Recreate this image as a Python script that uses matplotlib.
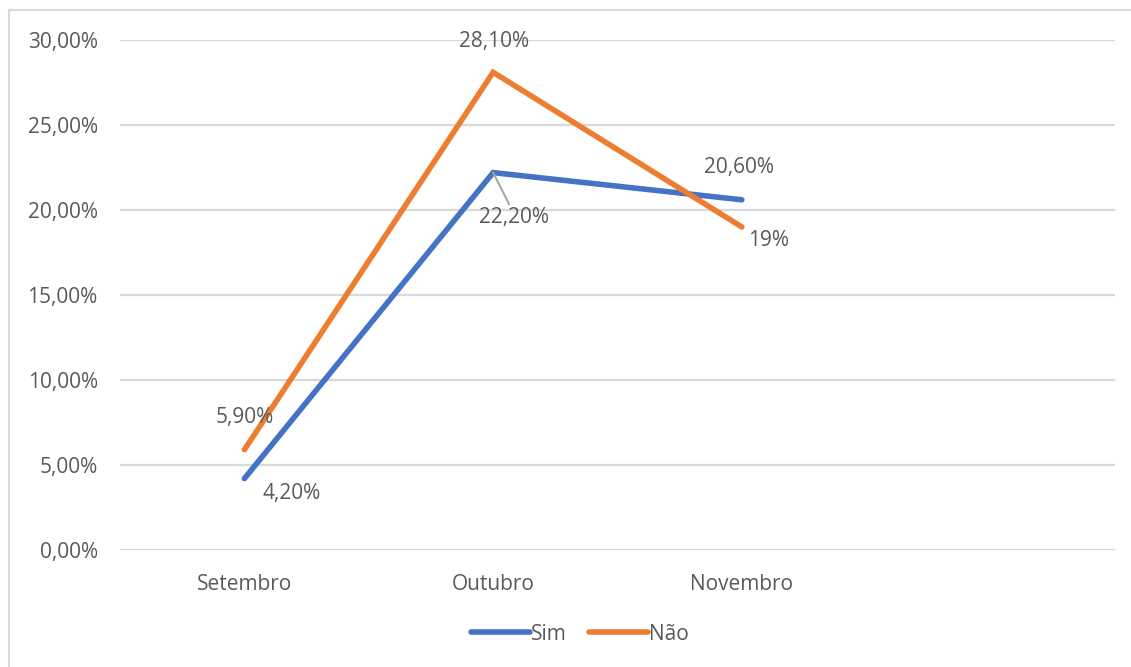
import matplotlib
matplotlib.use("Agg")
import matplotlib.pyplot as plt
from matplotlib.lines import Line2D

categories = ["Setembro", "Outubro", "Novembro", ""]
sim = [4.2, 22.2, 20.6]
nao = [5.9, 28.1, 19.0]
sim_labels = ["4,20%", "22,20%", "20,60%"]
nao_labels = ["5,90%", "28,10%", "19%"]
yticks = [0, 5, 10, 15, 20, 25, 30]
ytick_labels = ["0,00%", "5,00%", "10,00%", "15,00%", "20,00%", "25,00%", "30,00%"]

plt.rcParams['font.family'] = ['Open Sans', 'DejaVu Sans']
TXT = '#595959'
BLUE = '#4472C4'
ORANGE = '#ED7D31'

fig = plt.figure(figsize=(11.31, 6.67), dpi=100)
ax = fig.add_axes([120/1131, 1-550/667, (1115-120)/1131, (550-40)/667])

# figure border (left/top visible)
bx, by = 9/1131, 1-10/667
fig.add_artist(Line2D([bx, bx], [0, by], transform=fig.transFigure, color='#d9d9d9', linewidth=1.5))
fig.add_artist(Line2D([bx, 1], [by, by], transform=fig.transFigure, color='#d9d9d9', linewidth=1.5))

x = list(range(len(sim)))
ax.plot(x, sim, color=BLUE, linewidth=4.0, solid_capstyle='round', solid_joinstyle='miter', label='Sim', zorder=3)
ax.plot(x, nao, color=ORANGE, linewidth=4.0, solid_capstyle='round', solid_joinstyle='miter', label='Não', zorder=3)

fs = 15
ax.set_xlim(-0.5, 3.5)
ax.set_ylim(0, 30)
ax.set_yticks(yticks)
ax.set_yticklabels(ytick_labels)
ax.set_xticks(range(len(categories)))
ax.set_xticklabels(categories)
ax.tick_params(axis='both', length=0, labelsize=fs, colors=TXT)
ax.tick_params(axis='y', pad=16)
ax.tick_params(axis='x', pad=17.5)
ax.grid(axis='y', color='#d9d9d9', linewidth=1.6)
ax.set_axisbelow(True)
for s in ax.spines.values():
    s.set_visible(False)

# Sim labels
offs_sim = [(47, -15), (21, -45), (-3, 32)]
for i, (v, lab) in enumerate(zip(sim, sim_labels)):
    kw = {}
    if i == 1:
        kw['arrowprops'] = dict(arrowstyle='-', color='#a6a6a6', linewidth=1.5, shrinkA=0, shrinkB=0,
                                relpos=(0.45, 1.0))
    ax.annotate(lab, (x[i], v), xytext=offs_sim[i], textcoords='offset pixels',
                ha='center', va='center', fontsize=fs, color=TXT, **kw)
offs_nao = [(0, 32), (1, 31), (27, -13)]
for i, (v, lab) in enumerate(zip(nao, nao_labels)):
    ax.annotate(lab, (x[i], v), xytext=offs_nao[i], textcoords='offset pixels',
                ha='center', va='center', fontsize=fs, color=TXT)

leg = fig.legend(loc='center', bbox_to_anchor=(580/1131, 1-634/667), ncol=2, frameon=False,
                 fontsize=fs, handlelength=2.8, handletextpad=0.05, columnspacing=1.1)
for t in leg.get_texts():
    t.set_color(TXT)

fig.savefig('out.png', dpi=100)
